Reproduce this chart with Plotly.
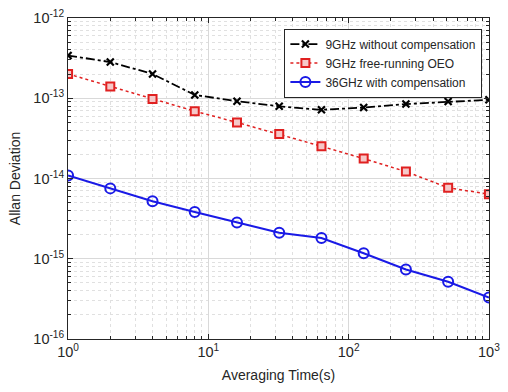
import plotly.graph_objects as go

tau = [1, 2, 4, 8, 16, 32, 64, 128, 256, 512, 1000]
adev_9g_nocomp = [3.41e-13, 2.83e-13, 2.01e-13, 1.10e-13, 9.2e-14, 7.94e-14, 7.18e-14, 7.66e-14, 8.47e-14, 9.1e-14, 9.57e-14]
adev_9g_oeo = [2.01e-13, 1.40e-13, 9.8e-14, 6.9e-14, 5.0e-14, 3.58e-14, 2.52e-14, 1.77e-14, 1.22e-14, 7.67e-15, 6.37e-15]
adev_36g_comp = [1.09e-14, 7.53e-15, 5.2e-15, 3.83e-15, 2.82e-15, 2.11e-15, 1.81e-15, 1.17e-15, 7.35e-16, 5.16e-16, 3.28e-16]

names = ["9GHz without compensation", "9GHz free-running OEO", "36GHz with compensation"]

x_tickvals = [1, 10, 100, 1000]
x_ticktext = ["10<sup>0</sup>", "10<sup>1</sup>", "10<sup>2</sup>", "10<sup>3</sup>"]
y_tickvals = [1e-16, 1e-15, 1e-14, 1e-13, 1e-12]
y_ticktext = ["10<sup>-16</sup>", "10<sup>-15</sup>", "10<sup>-14</sup>", "10<sup>-13</sup>", "10<sup>-12</sup>"]

x_minor = [m * 10 ** d for d in range(0, 3) for m in range(2, 10)]
y_minor = [m * 10.0 ** d for d in range(-16, -12) for m in range(2, 10)]

FONT = "Liberation Sans, Arial, sans-serif"
TXT = "#262626"

fig = go.Figure()
fig.add_trace(go.Scatter(
    x=tau, y=adev_9g_nocomp, name=names[0], mode="lines+markers",
    line=dict(color="black", width=1.8, dash="dashdot"),
    marker=dict(symbol="x-thin-open", size=7, line=dict(color="black", width=2.2)),
))
fig.add_trace(go.Scatter(
    x=tau, y=adev_9g_oeo, name=names[1], mode="lines+markers",
    line=dict(color="#e02020", width=1.5, dash="dot"),
    marker=dict(symbol="square", size=8, color="#f6c8c8", line=dict(color="#e02020", width=2)),
))
fig.add_trace(go.Scatter(
    x=tau, y=adev_36g_comp, name=names[2], mode="lines+markers",
    line=dict(color="#1a1ae6", width=2),
    marker=dict(symbol="circle-open", size=10, line=dict(color="#1a1ae6", width=2)),
))

axis_common = dict(
    type="log", showline=True, linecolor=TXT, linewidth=1, mirror="allticks",
    ticks="inside", ticklen=5, tickcolor=TXT,
    showgrid=True, gridcolor="#d9d9d9", gridwidth=1, zeroline=False,
    tickfont=dict(family=FONT, size=14.5, color=TXT),
    ticklabeloverflow="allow",
)

fig.update_xaxes(
    **axis_common, range=[-0.0005, 3.0005], tickmode="array", tickvals=x_tickvals, ticktext=x_ticktext,
    minor=dict(tickmode="array", tickvals=x_minor, ticks="inside", ticklen=3, tickcolor=TXT,
               showgrid=True, gridcolor="#e0e0e0", griddash="dot", gridwidth=1),
    title=dict(text="Averaging Time(s)", font=dict(family=FONT, size=14, color=TXT), standoff=10),
)
fig.update_yaxes(
    **axis_common, range=[-16.0005, -11.9995], tickmode="array", tickvals=y_tickvals, ticktext=y_ticktext,
    minor=dict(tickmode="array", tickvals=y_minor, ticks="inside", ticklen=3, tickcolor=TXT,
               showgrid=True, gridcolor="#e0e0e0", griddash="dot", gridwidth=1),
    title=dict(text="Allan Deviation", font=dict(family=FONT, size=14, color=TXT), standoff=9),
)

fig.update_layout(
    width=508, height=392,
    margin=dict(l=68, r=18, t=8, b=53),
    paper_bgcolor="white", plot_bgcolor="white",
    legend=dict(x=0.514, y=0.967, xanchor="left", yanchor="top",
                bgcolor="white", bordercolor=TXT, borderwidth=1,
                font=dict(family=FONT, size=12, color=TXT),
                tracegroupgap=0, itemwidth=30),
    showlegend=True,
)

fig.write_html("out.html", config={"displayModeBar": False},
               post_script="document.body.style.margin='0';")
